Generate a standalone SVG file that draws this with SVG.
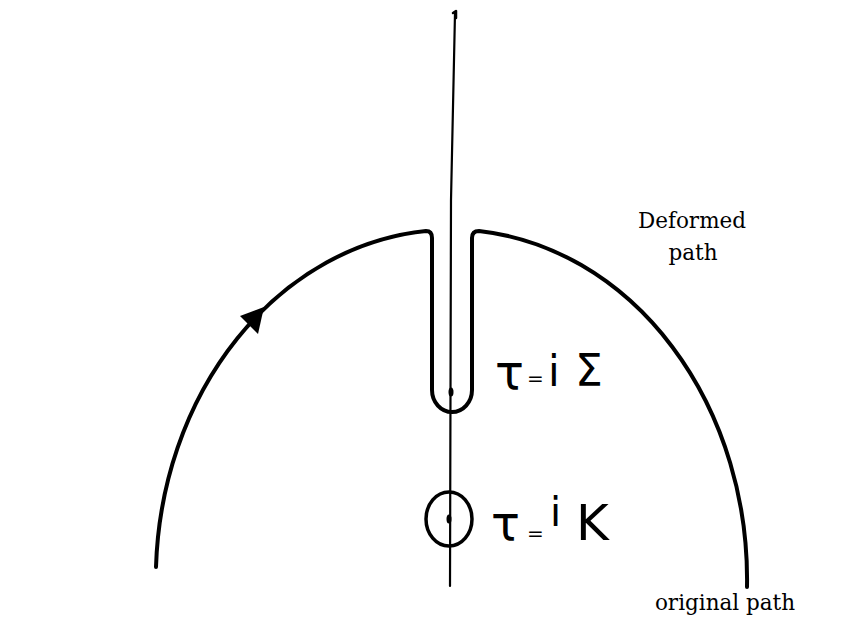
<svg xmlns="http://www.w3.org/2000/svg" width="860" height="620" viewBox="0 0 860 620">
<style>
.ink{fill:none;stroke:#000;stroke-linecap:round;stroke-linejoin:round}
.hand{font-family:"DejaVu Sans","Liberation Sans",sans-serif;fill:#000}
.lbl{font-family:"DejaVu Serif","Liberation Serif",serif;font-size:21.5px;fill:#000}
</style>
<rect width="860" height="620" fill="#fff"/>
<g id="axis">
<path class="ink" d="M455,13 L451,200 L450,586" stroke-width="2.2"/>
<path class="ink" d="M453,13 L456,11 L456,18" stroke-width="2.5"/>
</g>
<g id="contour">
<path class="ink" stroke-width="4" d="M156,567 A296,350 0 0 1 426,231 Q432,231 432,238 L432,390 A20,22 0 0 0 472,390 L472,238 Q472,231 479,231 A296,350 0 0 1 747,587"/>
<polygon points="240,316 258,334 264,307" fill="#000"/>
<ellipse cx="451" cy="392" rx="2.5" ry="4.5" fill="#000"/>
</g>
<g id="pole-k">
<ellipse class="ink" cx="449" cy="519" rx="23" ry="27" stroke-width="3.5"/>
<ellipse cx="449" cy="519" rx="2.5" ry="4.5" fill="#000"/>
</g>
<g id="label-sigma">
<text class="hand" x="495" y="389" font-size="48">τ</text>
<text class="hand" x="527" y="385" font-size="20">=</text>
<text class="hand" x="548" y="386" font-size="42">i</text>
<text class="hand" x="575" y="386" font-size="44">Σ</text>
</g>
<g id="label-k">
<text class="hand" x="491" y="540" font-size="48">τ</text>
<text class="hand" x="527" y="540" font-size="20">=</text>
<text class="hand" x="550" y="526" font-size="40">i</text>
<text class="hand" x="576" y="540" font-size="50">K</text>
</g>
<g id="labels">
<text class="lbl" x="692" y="228" text-anchor="middle">Deformed</text>
<text class="lbl" x="693" y="260" text-anchor="middle">path</text>
<text class="lbl" x="725" y="610" text-anchor="middle">original path</text>
</g>
</svg>
